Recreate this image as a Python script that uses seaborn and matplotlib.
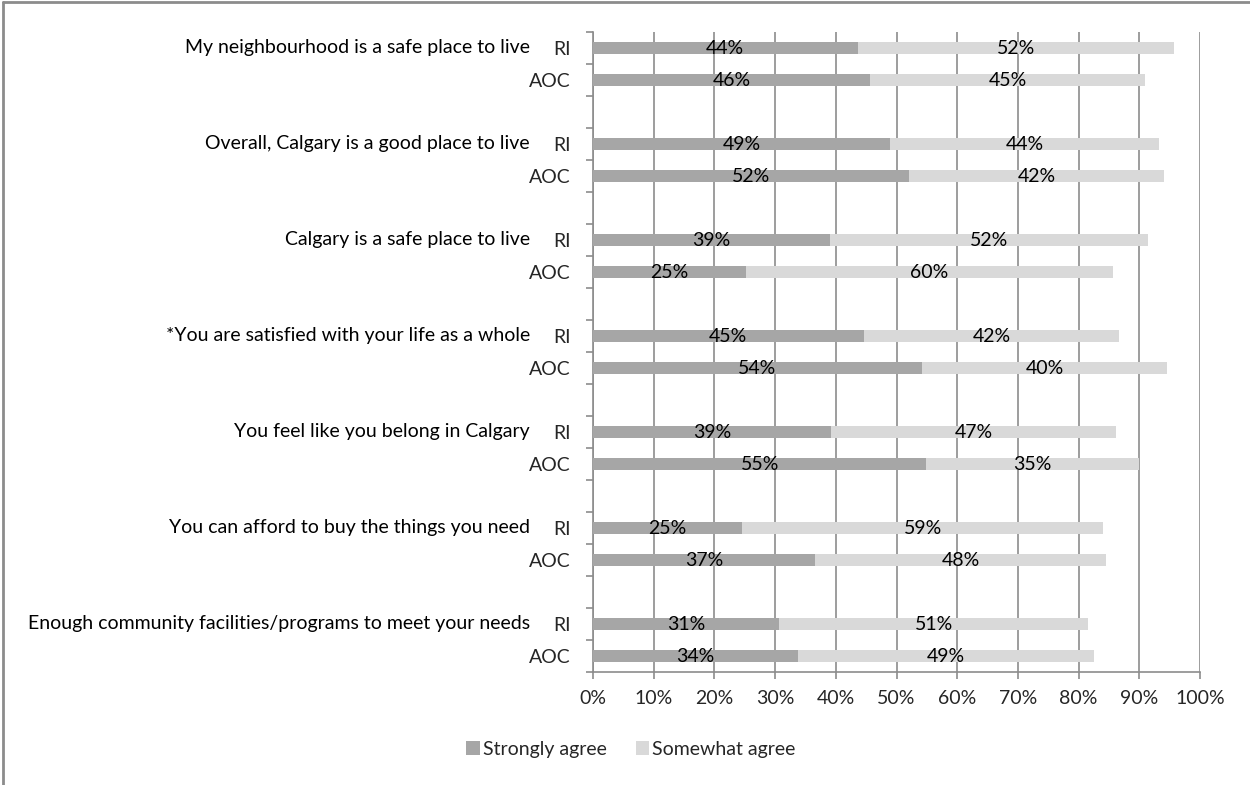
import matplotlib
matplotlib.use("Agg")
import matplotlib.pyplot as plt
from matplotlib.patches import Patch
from matplotlib.lines import Line2D
from matplotlib.ticker import FuncFormatter
import seaborn as sns
import pandas as pd
import numpy as np

statements = [
    "My neighbourhood is a safe place to live",
    "Overall, Calgary is a good place to live",
    "Calgary is a safe place to live",
    "*You are satisfied with your life as a whole",
    "You feel like you belong in Calgary",
    "You can afford to buy the things you need",
    "Enough community facilities/programs to meet your needs",
]
groups = ["RI", "AOC"]
strongly_ri = [43.6, 49.0, 39.1, 44.6, 39.2, 24.6, 30.7]
strongly_aoc = [45.7, 52.0, 25.2, 54.2, 54.9, 36.6, 33.8]
somewhat_ri = [52.1, 44.3, 52.4, 42.1, 47.0, 59.4, 50.9]
somewhat_aoc = [45.3, 42.1, 60.4, 40.4, 35.1, 47.9, 48.8]
series_names = ["Strongly agree", "Somewhat agree"]
x_ticks = [0, 10, 20, 30, 40, 50, 60, 70, 80, 90, 100]

C_STRONG = "#A6A6A6"
C_SOME = "#D9D9D9"
C_GRID = "#8C8C8C"

sns.set_style("white")
plt.rcParams["font.family"] = ["Lato", "DejaVu Sans"]
FS = 14

# build long table with slot order (RI, AOC, blank per statement)
rows = []
order = []
for i, st in enumerate(statements):
    for g, s_vals, w_vals in (("RI", strongly_ri, somewhat_ri), ("AOC", strongly_aoc, somewhat_aoc)):
        slot = f"{i}_{g}"
        order.append(slot)
        rows.append({"slot": slot, "statement": st, "group": g,
                     "strongly": s_vals[i], "somewhat": w_vals[i],
                     "total": s_vals[i] + w_vals[i]})
    if i < len(statements) - 1:
        order.append(f"{i}_blank")
df = pd.DataFrame(rows)

fig = plt.figure(figsize=(12.5, 7.85), dpi=100)
ax = fig.add_axes([593 / 1250, 1 - 672 / 785, 607 / 1250, 640 / 785])

sns.barplot(data=df, x="total", y="slot", order=order, orient="h", color=C_SOME,
            saturation=1, width=0.4, errorbar=None, linewidth=0, ax=ax, zorder=3)
sns.barplot(data=df, x="strongly", y="slot", order=order, orient="h", color=C_STRONG,
            saturation=1, width=0.4, errorbar=None, linewidth=0, ax=ax, zorder=4)

ax.set_xlim(0, 100)
ax.set_ylim(len(order) - 0.5, -0.5)
ax.set_xlabel("")
ax.set_ylabel("")

# x axis
ax.set_xticks(x_ticks)
ax.xaxis.set_major_formatter(FuncFormatter(lambda v, p: f"{v:.0f}%"))
ax.grid(axis="x", color=C_GRID, linewidth=1.2, zorder=0)
ax.set_axisbelow(True)
ax.tick_params(axis="x", which="major", direction="out", length=5, width=1.2,
               color=C_GRID, labelsize=FS, pad=8, bottom=True)

# y axis: ticks at slot boundaries, labels at slot centers
ax.set_yticks(np.arange(-0.5, len(order), 1.0))
ax.set_yticklabels([])
pos = {s: k for k, s in enumerate(order)}
lab_pos = [pos[r] for r in df["slot"]]
ax.set_yticks(lab_pos, list(df["group"]), minor=True)
ax.tick_params(axis="y", which="major", direction="out", length=5, width=1.2,
               color=C_GRID, left=True)
ax.tick_params(axis="y", which="minor", length=0, pad=16, labelsize=FS)

for side in ["top", "right"]:
    ax.spines[side].set_visible(False)
for side in ["left", "bottom"]:
    ax.spines[side].set_color(C_GRID)
    ax.spines[side].set_linewidth(1.2)

# statement labels
trans = matplotlib.transforms.blended_transform_factory(ax.transAxes, ax.transData)
for i, st in enumerate(statements):
    ax.text(-63 / 607, pos[f"{i}_RI"], st, transform=trans, ha="right", va="center",
            fontsize=FS, color="black")

# data labels
for _, r in df.iterrows():
    y = pos[r["slot"]]
    ax.text(r["strongly"] / 2, y, f"{r['strongly']:.0f}%", ha="center", va="center",
            fontsize=FS, color="black", zorder=6)
    ax.text(r["strongly"] + r["somewhat"] / 2, y, f"{r['somewhat']:.0f}%", ha="center",
            va="center", fontsize=FS, color="black", zorder=6)

# legend
handles = [Patch(facecolor=C_STRONG, edgecolor="none"), Patch(facecolor=C_SOME, edgecolor="none")]
fig.legend(handles, series_names, loc="center", bbox_to_anchor=(631 / 1250, 1 - 749 / 785),
           ncol=2, frameon=False, fontsize=FS, handlelength=0.7, handleheight=0.7,
           handletextpad=0.15, columnspacing=1.5)

# outer frame (top and left)
fig.add_artist(Line2D([0.0025, 0.0025], [0, 0.998], transform=fig.transFigure,
                      color="#8C8C8C", linewidth=2))
fig.add_artist(Line2D([0.0025, 1], [0.998, 0.998], transform=fig.transFigure,
                      color="#8C8C8C", linewidth=2))

fig.savefig("out.png", dpi=100, facecolor="white")
